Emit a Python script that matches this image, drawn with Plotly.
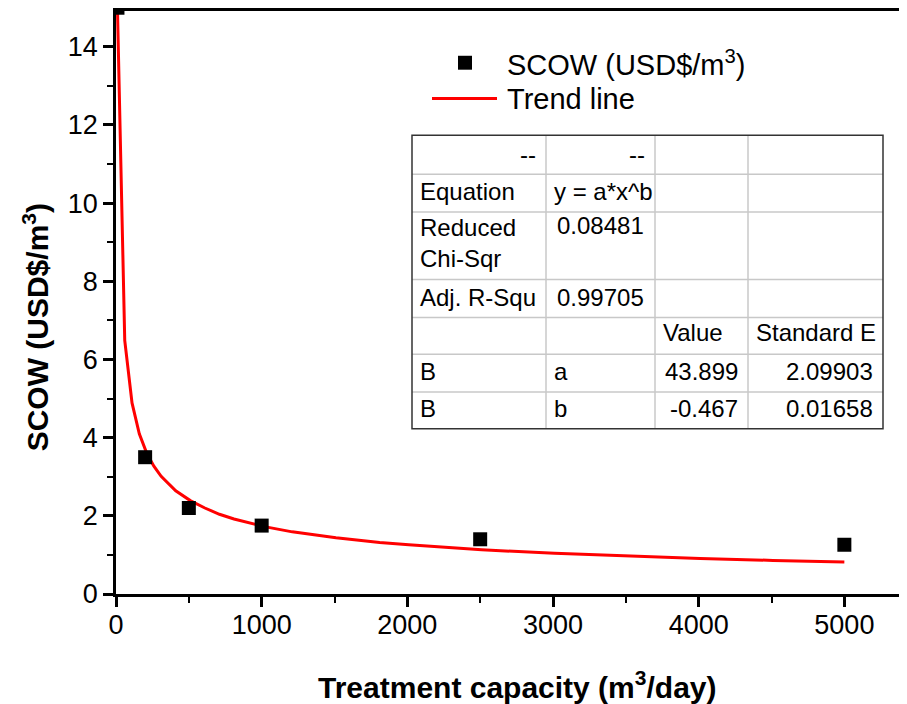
import plotly.graph_objects as go

# Data
capacity = [10, 200, 500, 1000, 2500, 5000]
scow = [15.0, 3.5, 2.2, 1.75, 1.4, 1.26]

trend_x = [10, 60, 110, 160, 210, 260, 310, 410, 510, 610, 710, 810, 1010, 1210,
           1510, 1810, 2010, 2510, 3010, 3510, 4010, 4510, 5000]
trend_y = [14.97, 6.49, 4.89, 4.10, 3.61, 3.27, 3.01, 2.64, 2.39, 2.20, 2.04, 1.92,
           1.73, 1.59, 1.44, 1.32, 1.26, 1.13, 1.04, 0.97, 0.91, 0.86, 0.82]

x_ticks = [0, 1000, 2000, 3000, 4000, 5000]
y_ticks = [0, 2, 4, 6, 8, 10, 12, 14]

table_rows = [
    ["--", "--", "", ""],
    ["Equation", "y = a*x^b", "", ""],
    ["Reduced<br>Chi-Sqr", "0.08481", "", ""],
    ["Adj. R-Squ", "0.99705", "", ""],
    ["", "", "Value", "Standard E"],
    ["B", "a", "43.899", "2.09903"],
    ["B", "b", "-0.467", "0.01658"],
]

# The page body has an 8px margin, so the figure is shifted by 8px on screen.
OFF = 8
W, H = 907 - OFF, 704 - OFF
# plot area in screen pixels
SL, SR, ST, SB = 116, 907, 8, 594
FONT = "Liberation Sans, Arial, sans-serif"
Y_PER_UNIT = (594 - 44) / 14.0
y_top = (SB - ST) / Y_PER_UNIT


def px(x):
    return (x - SL) / (SR - SL)


def py(y):
    return (SB - y) / (SB - ST)


fig = go.Figure()
fig.add_trace(go.Scatter(x=trend_x, y=trend_y, mode="lines",
                         line=dict(color="#ff0000", width=3), name="Trend line",
                         showlegend=False))
fig.add_trace(go.Scatter(x=capacity, y=scow, mode="markers",
                         marker=dict(symbol="square", size=14, color="black"),
                         name="SCOW (USD$/m<sup>3</sup>)", showlegend=False))

shapes = []
annotations = []

# Manual legend
shapes.append(dict(type="rect", xref="paper", yref="paper",
                   x0=px(458), x1=px(472), y0=py(67), y1=py(53),
                   fillcolor="black", line=dict(width=0)))
shapes.append(dict(type="line", xref="paper", yref="paper",
                   x0=px(432), x1=px(497), y0=py(96), y1=py(96),
                   line=dict(color="#ff0000", width=3)))
annotations.append(dict(text="SCOW (USD$/m<sup>3</sup>)", xref="paper", yref="paper",
                        x=px(505), y=py(60), xanchor="left", yanchor="middle",
                        showarrow=False, font=dict(size=29, color="black", family=FONT)))
annotations.append(dict(text="Trend line", xref="paper", yref="paper",
                        x=px(505), y=py(96), xanchor="left", yanchor="middle",
                        showarrow=False, font=dict(size=29, color="black", family=FONT)))

# Table grid
col_x = [412, 546, 655, 748, 883]
row_y = [133, 172, 210, 278, 316, 353, 391, 428]
for cx in col_x[1:-1]:
    shapes.append(dict(type="line", xref="paper", yref="paper",
                       x0=px(cx), x1=px(cx), y0=py(row_y[0]), y1=py(row_y[-1]),
                       line=dict(color="#c8c8c8", width=1.5)))
for ry in row_y[1:-1]:
    shapes.append(dict(type="line", xref="paper", yref="paper",
                       x0=px(col_x[0]), x1=px(col_x[-1]), y0=py(ry), y1=py(ry),
                       line=dict(color="#c8c8c8", width=1.5)))
shapes.append(dict(type="rect", xref="paper", yref="paper",
                   x0=px(col_x[0]), x1=px(col_x[-1]), y0=py(row_y[-1]), y1=py(row_y[0]),
                   line=dict(color="#333333", width=1.5)))

text_y = [152, 189, 241, 296, 331, 370, 408]
col_align = [
    ["right", "right", "left", "left"],
    ["left", "left", "left", "left"],
    ["left", "center", "left", "left"],
    ["left", "center", "left", "left"],
    ["left", "left", "left", "left"],
    ["left", "left", "right", "right"],
    ["left", "left", "right", "right"],
]
for ri, row in enumerate(table_rows):
    for ci, txt in enumerate(row):
        if not txt:
            continue
        al = col_align[ri][ci]
        if al == "left":
            xx = col_x[ci] + 6
        elif al == "right":
            xx = col_x[ci + 1] - 8
        else:
            xx = (col_x[ci] + col_x[ci + 1]) / 2
        yy = text_y[ri]
        if ri == 2 and ci == 1:
            yy = 224
        annotations.append(dict(text=txt, xref="paper", yref="paper",
                                x=px(xx), y=py(yy), xanchor=al, yanchor="middle",
                                align="left", showarrow=False,
                                font=dict(size=24, color="black", family=FONT)))

# Axis titles
annotations.append(dict(text="<b>Treatment capacity (m<sup>3</sup>/day)</b>",
                        xref="paper", yref="paper", x=px(517), y=py(685),
                        xanchor="center", yanchor="middle", showarrow=False,
                        font=dict(size=30, color="black", family=FONT)))
annotations.append(dict(text="<b>SCOW (USD$/m<sup>3</sup>)</b>",
                        xref="paper", yref="paper", x=px(36), y=py(326),
                        xanchor="center", yanchor="middle", showarrow=False,
                        textangle=-90,
                        font=dict(size=30, color="black", family=FONT)))

fig.update_layout(
    width=W, height=H,
    margin=dict(l=SL - OFF, r=907 - SR, t=ST - OFF, b=(H + OFF) - SB, pad=0),
    paper_bgcolor="white", plot_bgcolor="white",
    showlegend=False,
    shapes=shapes, annotations=annotations,
    font=dict(family=FONT, color="black"),
)
fig.update_xaxes(range=[0, 5430], tickvals=x_ticks, ticks="outside", ticklen=10,
                 tickwidth=2.5, tickcolor="black", showline=True, linecolor="black",
                 linewidth=2.5, mirror=True, showgrid=False, zeroline=False,
                 ticklabelstandoff=-5,
                 tickfont=dict(size=27, family=FONT, color="black"),
                 minor=dict(ticks="outside", dtick=500, ticklen=6, tickwidth=2,
                            tickcolor="black", showgrid=False))
fig.update_yaxes(range=[0, y_top], tickvals=y_ticks, ticks="outside", ticklen=10,
                 tickwidth=2.5, tickcolor="black", showline=True, linecolor="black",
                 linewidth=2.5, showgrid=False, zeroline=False,
                 tickfont=dict(size=27, family=FONT, color="black"),
                 minor=dict(ticks="outside", dtick=1, ticklen=6, tickwidth=2,
                            tickcolor="black", showgrid=False))

fig.write_html("out.html")
